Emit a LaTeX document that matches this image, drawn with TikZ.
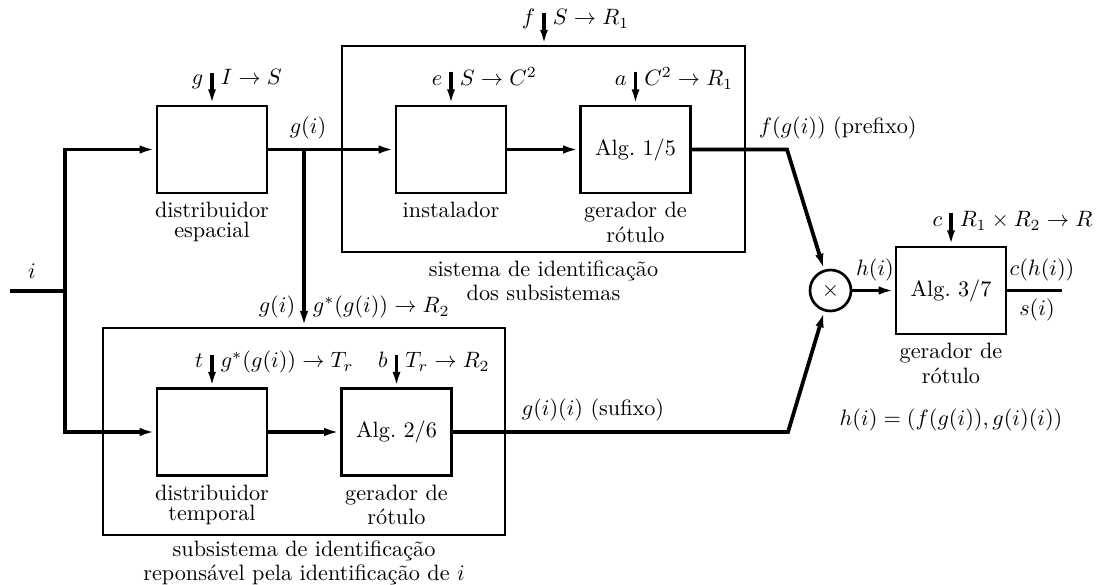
\documentclass[tikz,border=0pt]{standalone}
\usetikzlibrary{arrows.meta}
\newcommand\twoline[2]{\vbox{\baselineskip=0pt\lineskiplimit=0pt\lineskip=2pt\halign{\hfil##\hfil\cr#1\cr#2\cr}}}
\begin{document}
\begin{tikzpicture}[x=0.45pt,y=-0.45pt,
  sig/.style={line width=1.7pt},
  tipa/.style={-{Latex[length=7.2pt,width=3.8pt]}},
  par/.style={line width=1.4pt,-{Latex[length=6.8pt,width=3.6pt]}},
  blk/.style={draw,line width=1.3pt,minimum width=110*0.45pt,minimum height=87*0.45pt,inner sep=0pt},
  bigbox/.style={draw,line width=1pt,inner sep=0pt},
  captxt/.style={align=center}
]
\useasboundingbox (0,0) rectangle (1099,585);

% blocks
\node[blk] (DE) at (212,149.5) {};
\node[bigbox,minimum width=403*0.45pt,minimum height=206*0.45pt] (sys1) at (543.5,149) {};
\node[blk] (inst) at (451,149.5) {};
\node[blk] (alg1) at (635.5,149.5) {Alg.\ $1/5$};
\node[bigbox,minimum width=402*0.45pt,minimum height=207*0.45pt] (sys2) at (304,431.5) {};
\node[blk] (DT) at (212,432) {};
\node[blk] (alg2) at (396.5,432) {Alg.\ $2/6$};
\node[draw,circle,line width=1.2pt,minimum size=41*0.45pt,inner sep=0pt] (mul) at (830.5,290.5) {$\times$};
\node[blk] (alg3) at (951,290.5) {Alg.\ $3/7$};

% signal coordinates
\coordinate (in) at (10,291);
\coordinate (j) at (65,291);
\coordinate (br) at (304,149.5);
\coordinate (b1) at (787,149.5);
\coordinate (b2) at (788,432);
\coordinate (out) at (1062,290.5);

\draw[sig] (in) -- (j);
\draw[sig,tipa] (j) |- (DE.west);
\draw[sig,tipa] (j) |- (DT.west);
\draw[sig,tipa] (DE.east) -- (inst.west);
\draw[sig,tipa] (br) -- (sys2.north);
\draw[sig,tipa] (inst.east) -- (alg1.west);
\draw[sig,tipa] (alg1.east) -- (b1) -- (mul);
\draw[sig,tipa] (DT.east) -- (alg2.west);
\draw[sig,tipa] (alg2.east) -- (b2) -- (mul);
\draw[sig,tipa] (mul.east) -- (alg3.west);
\draw[sig] (alg3.east) -- (out);

% parameter arrows
\coordinate (pg) at (212,73);
\coordinate (pf) at (544,13);
\coordinate (pe) at (451,72);
\coordinate (pa) at (635.5,72);
\coordinate (pc) at (951,213);
\coordinate (pt) at (212,355);
\coordinate (pb) at (396.5,355);
\draw[par] (pg) -- (DE.north);
\draw[par] (pf) -- (pf |- sys1.north);
\draw[par] (pe) -- (inst.north);
\draw[par] (pa) -- (alg1.north);
\draw[par] (pc) -- (alg3.north);
\draw[par] (pt) -- (DT.north);
\draw[par] (pb) -- (alg2.north);

\node[anchor=base east] (lg) at (211,85) {$g$};
\node[anchor=base west] (lgm) at (213,85) {$I\to S$};
\node[anchor=base east] (lf) at (543,25) {$f$};
\node[anchor=base west] (lfm) at (545,25) {$S\to R_1$};
\node[anchor=base east] (le) at (450,86) {$e$};
\node[anchor=base west] (lem) at (452,86) {$S\to C^2$};
\node[anchor=base east] (la) at (634.5,86) {$a$};
\node[anchor=base west] (lam) at (636.5,86) {$C^2\to R_1$};
\node[anchor=base east] (lc) at (950,227) {$c$};
\node[anchor=base west] (lcm) at (952,227) {$R_1\times R_2\to R$};
\node[anchor=base east] (lt) at (211,368) {$t$};
\node[anchor=base west] (ltm) at (213,368) {$g^*(g(i))\to T_r$};
\node[anchor=base east] (lb) at (395.5,368) {$b$};
\node[anchor=base west] (lbm) at (397.5,368) {$T_r\to R_2$};
\node[anchor=base east] (lv) at (303,313) {$g(i)$};
\node[anchor=base west] (lvm) at (305,313) {$g^*(g(i))\to R_2$};

% signal labels
\node (li) at (32,271) {$i$};
\node (lgi) at (308,128) {$g(i)$};
\node[anchor=west] (lpre) at (751,128) {$f(g(i))$ (prefixo)};
\node[anchor=west] (lsuf) at (514,410) {$g(i)(i)$ (sufixo)};
\node (lh) at (875,270) {$h(i)$};
\node (lch) at (1042,270) {$c(h(i))$};
\node (ls) at (1037,310) {$s(i)$};
\node (leq) at (951,420) {$h(i)=(f(g(i)),g(i)(i))$};

% captions
\node[captxt,anchor=north] (cDE) at (DE.south) {\twoline{distribuidor}{espacial}};
\node[captxt,anchor=north] (cinst) at (inst.south) {instalador};
\node[captxt,anchor=north] (calg1) at (alg1.south) {\twoline{gerador de}{rótulo}};
\node[captxt,anchor=north] (csys1) at (sys1.south) {\twoline{sistema de identificação}{dos subsistemas}};
\node[captxt,anchor=north] (cDT) at (DT.south) {\twoline{distribuidor}{temporal}};
\node[captxt,anchor=north] (calg2) at (alg2.south) {\twoline{gerador de}{rótulo}};
\node[captxt,anchor=north,yshift=1.5pt] (csys2) at (sys2.south) {\twoline{subsistema de identificação}{reponsável pela identificação de $i$}};
\node[captxt,anchor=north] (calg3) at (alg3.south) {\twoline{gerador de}{rótulo}};
\end{tikzpicture}
\end{document}
